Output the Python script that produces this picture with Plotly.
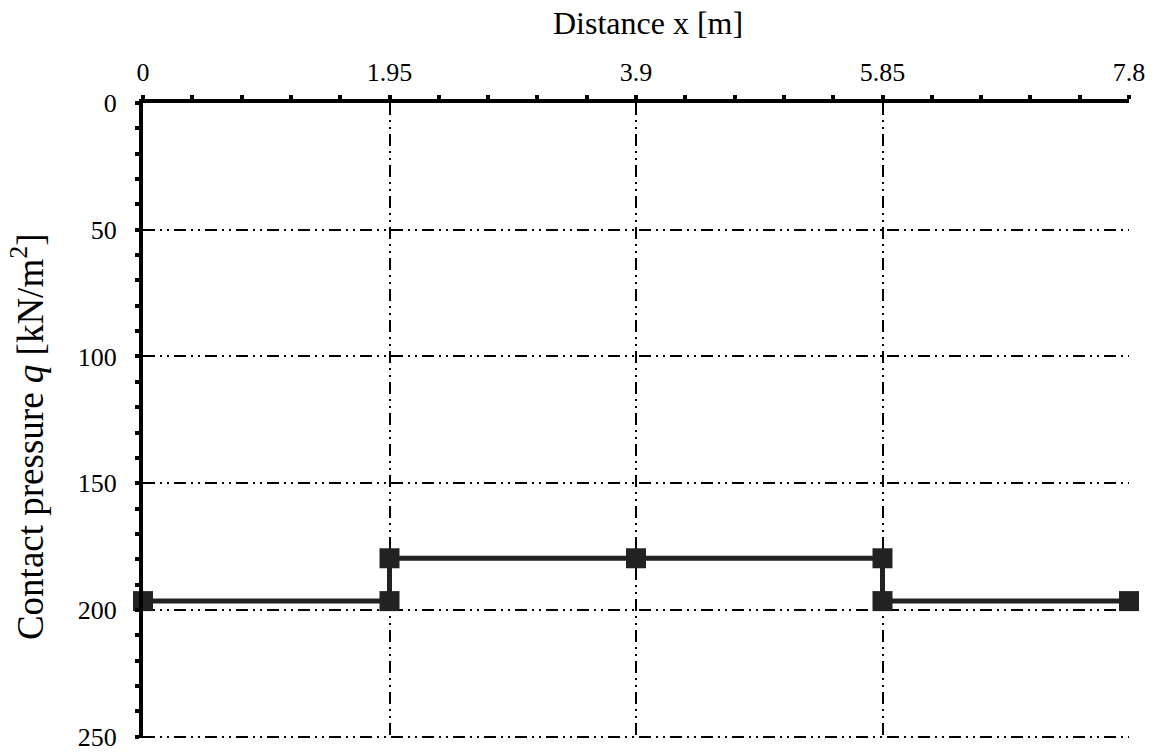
import plotly.graph_objects as go

x_vals = [0, 1.95, 1.95, 3.9, 5.85, 5.85, 7.8]
q_vals = [196.5, 196.5, 179.6, 179.6, 179.6, 196.5, 196.5]
x_ticks = [0, 1.95, 3.9, 5.85, 7.8]
x_tick_labels = ["0", "1.95", "3.9", "5.85", "7.8"]
y_ticks = [0, 50, 100, 150, 200, 250]
x_title = "Distance x [m]"
y_title = "Contact pressure <i>q</i> [kN/m<sup>2</sup>]"

font_family = "Liberation Serif"
dash = "12px,5px,2px,5px,2px,5px"

fig = go.Figure()
fig.add_trace(go.Scatter(
    x=x_vals, y=q_vals, mode="lines+markers",
    line=dict(color="#222222", width=5),
    marker=dict(symbol="square", size=20, color="#222222"),
    cliponaxis=False, showlegend=False,
))

fig.update_layout(
    width=1155, height=755,
    margin=dict(l=143, r=26, t=103, b=17),
    paper_bgcolor="white", plot_bgcolor="white",
    font=dict(family=font_family, size=26, color="black"),
    xaxis=dict(
        side="top", range=[0, 7.8], tickvals=x_ticks, ticktext=x_tick_labels,
        automargin=False,
        showgrid=True, gridcolor="black", gridwidth=1.5, griddash=dash,
        showline=True, linecolor="black", linewidth=4,
        ticks="outside", ticklen=4, tickwidth=4, tickcolor="black",
        ticklabelstandoff=4, ticklabeloverflow="allow",
        minor=dict(dtick=0.39, tick0=0, ticks="outside", ticklen=4, tickwidth=4, tickcolor="black", showgrid=False),
        zeroline=False,
        tickfont=dict(size=26, family=font_family),
    ),
    yaxis=dict(
        range=[250.5, 0], tickvals=y_ticks,
        automargin=False,
        showgrid=True, gridcolor="black", gridwidth=1.5, griddash=dash,
        showline=True, linecolor="black", linewidth=4,
        ticks="outside", ticklen=4, tickwidth=4, tickcolor="black",
        ticklabelstandoff=13, ticklabeloverflow="allow",
        minor=dict(dtick=10, tick0=0, ticks="outside", ticklen=4, tickwidth=4, tickcolor="black", showgrid=False),
        zeroline=False,
        tickfont=dict(size=26, family=font_family),
    ),
    annotations=[
        dict(text=x_title, xref="paper", yref="paper", x=0.512, y=1.126,
             xanchor="center", yanchor="middle", showarrow=False,
             font=dict(size=32, family=font_family)),
        dict(text=y_title, xref="paper", yref="paper", x=-0.1176, y=0.474,
             xanchor="center", yanchor="middle", showarrow=False, textangle=-90,
             font=dict(size=37, family=font_family)),
    ],
)

fig.write_html("out.html", config={"displayModeBar": False},
               post_script="document.body.style.margin='0';")
